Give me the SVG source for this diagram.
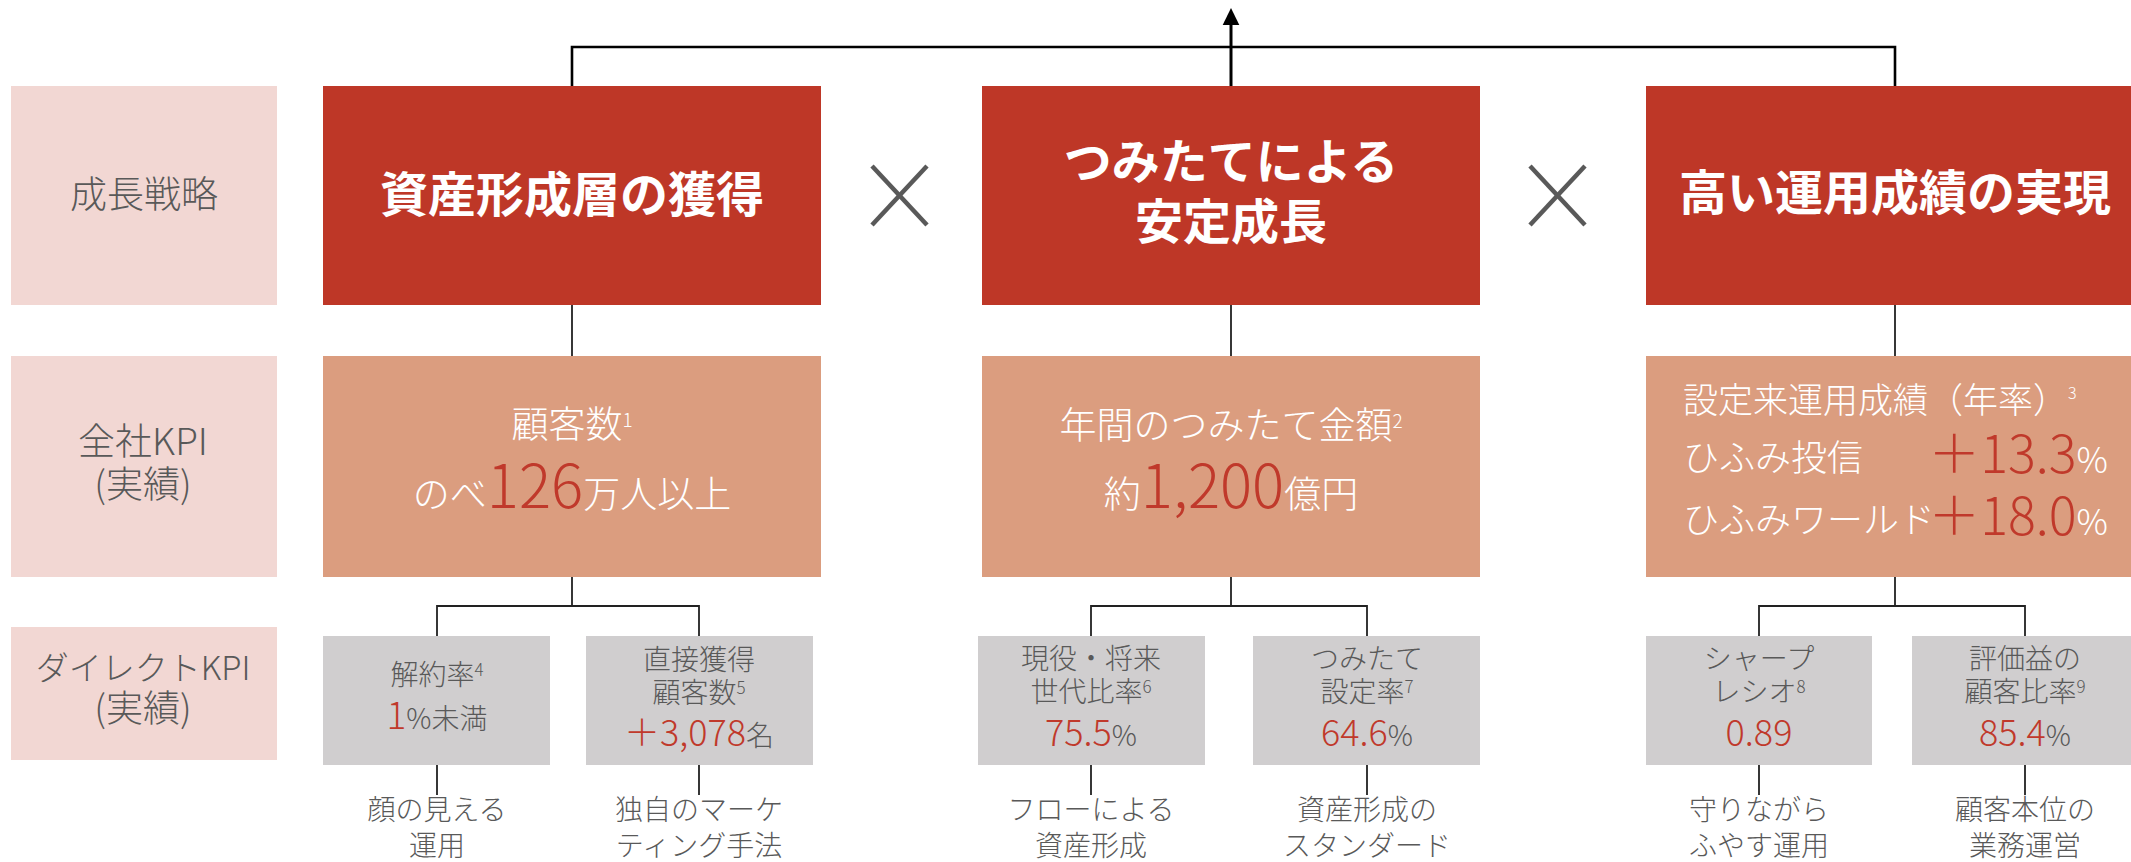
<svg xmlns="http://www.w3.org/2000/svg" width="2131" height="862" viewBox="0 0 2131 862">
<style>
text{font-family:'Noto Sans CJK JP','Noto Sans',sans-serif;font-weight:300}
.lbl{fill:#595959;text-anchor:middle}
.hd{fill:#fff;font-weight:700;font-size:48px;text-anchor:middle}
.w{fill:#fff}
.g{fill:#595959}
.r{fill:#C0392B}
.mid{text-anchor:middle}
.red{fill:#BE3727}
.sal{fill:#DB9D7F}
.pink{fill:#F2D7D3}
.gray{fill:#D0CECF}
.c{fill:none;stroke:#222;stroke-width:1.8}
.x{stroke:#595959;stroke-width:4.5}
</style>
<g id="connectors">
<path d="M572 86V47H1895V86" fill="none" stroke="#000" stroke-width="2.6"/>
<path d="M1231 86V24" fill="none" stroke="#000" stroke-width="3"/>
<polygon points="1231,8 1222.7,25 1239.3,25" fill="#000"/>
<path class="c" d="M572 305V356M1231 305V356M1895 305V356"/>
<path class="c" d="M572 577V606M437 636V606H699V636M1231 577V606M1091 636V606H1367V636M1895 577V606M1759 636V606H2025V636"/>
<path class="c" d="M437 765V795M699 765V795M1091 765V795M1367 765V795M1759 765V795M2025 765V795"/>
</g>
<g id="cross1"><line class="x" x1="872" y1="166" x2="927" y2="225"/><line class="x" x1="927" y1="166" x2="872" y2="225"/></g>
<g id="cross2"><line class="x" x1="1530" y1="166" x2="1585" y2="225"/><line class="x" x1="1585" y1="166" x2="1530" y2="225"/></g>

<g id="label-strategy"><rect class="pink" x="11" y="86" width="266" height="219"/><text class="lbl" x="144" y="208" font-size="37">成長戦略</text></g>
<g id="label-kpi"><rect class="pink" x="11" y="356" width="266" height="221"/><text class="lbl" x="143" y="455" font-size="37">全社KPI</text><text class="lbl" x="143" y="498" font-size="37">(実績)</text></g>
<g id="label-direct"><rect class="pink" x="11" y="627" width="266" height="133"/><text class="lbl" x="143" y="680" font-size="33">ダイレクトKPI</text><text class="lbl" x="143" y="722" font-size="37">(実績)</text></g>

<g id="strategy1"><rect class="red" x="323" y="86" width="498" height="219"/><text class="hd" x="572" y="212">資産形成層の獲得</text></g>
<g id="strategy2"><rect class="red" x="982" y="86" width="498" height="219"/><text class="hd" x="1231" y="179">つみたてによる</text><text class="hd" x="1231" y="239">安定成長</text></g>
<g id="strategy3"><rect class="red" x="1646" y="86" width="498" height="219"/><text class="hd" x="1895" y="210">高い運用成績の実現</text></g>

<g id="kpi1"><rect class="sal" x="323" y="356" width="498" height="221"/>
<text class="w mid" x="572" y="438" font-size="37">顧客数<tspan font-size="19" dy="-11">1</tspan></text>
<text class="w mid" x="572" y="508" font-size="37">のべ<tspan class="r" font-size="60">126</tspan>万人以上</text></g>
<g id="kpi2"><rect class="sal" x="982" y="356" width="498" height="221"/>
<text class="w mid" x="1231" y="439" font-size="37">年間のつみたて金額<tspan font-size="19" dy="-11">2</tspan></text>
<text class="w mid" x="1231" y="508" font-size="37">約<tspan class="r" font-size="60">1,200</tspan>億円</text></g>
<g id="kpi3"><rect class="sal" x="1646" y="356" width="498" height="221"/>
<text class="w" x="1683" y="413" font-size="35">設定来運用成績（年率）<tspan font-size="16" dy="-14">3</tspan></text>
<text class="w" x="1683" y="471" font-size="36">ひふみ投信</text>
<text class="w" x="2108" y="473" font-size="35" text-anchor="end"><tspan class="r" font-size="52">＋13.3</tspan>%</text>
<text class="w" x="1683" y="533" font-size="36">ひふみワールド</text>
<text class="w" x="2108" y="535" font-size="35" text-anchor="end"><tspan class="r" font-size="52">＋18.0</tspan>%</text></g>

<g id="d1"><rect class="gray" x="323" y="636" width="227" height="129"/>
<text class="g mid" x="437" y="685" font-size="28">解約率<tspan font-size="17" dy="-9">4</tspan></text>
<text class="g mid" x="437" y="729" font-size="28"><tspan class="r" font-size="37">1</tspan>%未満</text></g>
<g id="d2"><rect class="gray" x="586" y="636" width="227" height="129"/>
<text class="g mid" x="699" y="670" font-size="28">直接獲得</text>
<text class="g mid" x="699" y="703" font-size="28">顧客数<tspan font-size="17" dy="-9">5</tspan></text>
<text class="g mid" x="699" y="746" font-size="28"><tspan class="r" font-size="36">＋3,078</tspan>名</text></g>
<g id="d3"><rect class="gray" x="978" y="636" width="227" height="129"/>
<text class="g mid" x="1091" y="669" font-size="28">現役・将来</text>
<text class="g mid" x="1091" y="702" font-size="28">世代比率<tspan font-size="17" dy="-9">6</tspan></text>
<text class="g mid" x="1091" y="746" font-size="28"><tspan class="r" font-size="36">75.5</tspan>%</text></g>
<g id="d4"><rect class="gray" x="1253" y="636" width="227" height="129"/>
<text class="g mid" x="1367" y="669" font-size="28">つみたて</text>
<text class="g mid" x="1367" y="702" font-size="28">設定率<tspan font-size="17" dy="-9">7</tspan></text>
<text class="g mid" x="1367" y="746" font-size="28"><tspan class="r" font-size="36">64.6</tspan>%</text></g>
<g id="d5"><rect class="gray" x="1646" y="636" width="226" height="129"/>
<text class="g mid" x="1759" y="669" font-size="28">シャープ</text>
<text class="g mid" x="1759" y="702" font-size="28">レシオ<tspan font-size="17" dy="-9">8</tspan></text>
<text class="r mid" x="1759" y="746" font-size="36">0.89</text></g>
<g id="d6"><rect class="gray" x="1912" y="636" width="227" height="129"/>
<text class="g mid" x="2025" y="669" font-size="28">評価益の</text>
<text class="g mid" x="2025" y="702" font-size="28">顧客比率<tspan font-size="17" dy="-9">9</tspan></text>
<text class="g mid" x="2025" y="746" font-size="28"><tspan class="r" font-size="36">85.4</tspan>%</text></g>

<g id="note1"><text class="g mid" x="437" y="820" font-size="28">顔の見える</text><text class="g mid" x="437" y="856" font-size="28">運用</text></g>
<g id="note2"><text class="g mid" x="699" y="820" font-size="28">独自のマーケ</text><text class="g mid" x="699" y="856" font-size="28">ティング手法</text></g>
<g id="note3"><text class="g mid" x="1091" y="820" font-size="28">フローによる</text><text class="g mid" x="1091" y="856" font-size="28">資産形成</text></g>
<g id="note4"><text class="g mid" x="1367" y="820" font-size="28">資産形成の</text><text class="g mid" x="1367" y="856" font-size="28">スタンダード</text></g>
<g id="note5"><text class="g mid" x="1759" y="820" font-size="28">守りながら</text><text class="g mid" x="1759" y="856" font-size="28">ふやす運用</text></g>
<g id="note6"><text class="g mid" x="2025" y="820" font-size="28">顧客本位の</text><text class="g mid" x="2025" y="856" font-size="28">業務運営</text></g>
</svg>
